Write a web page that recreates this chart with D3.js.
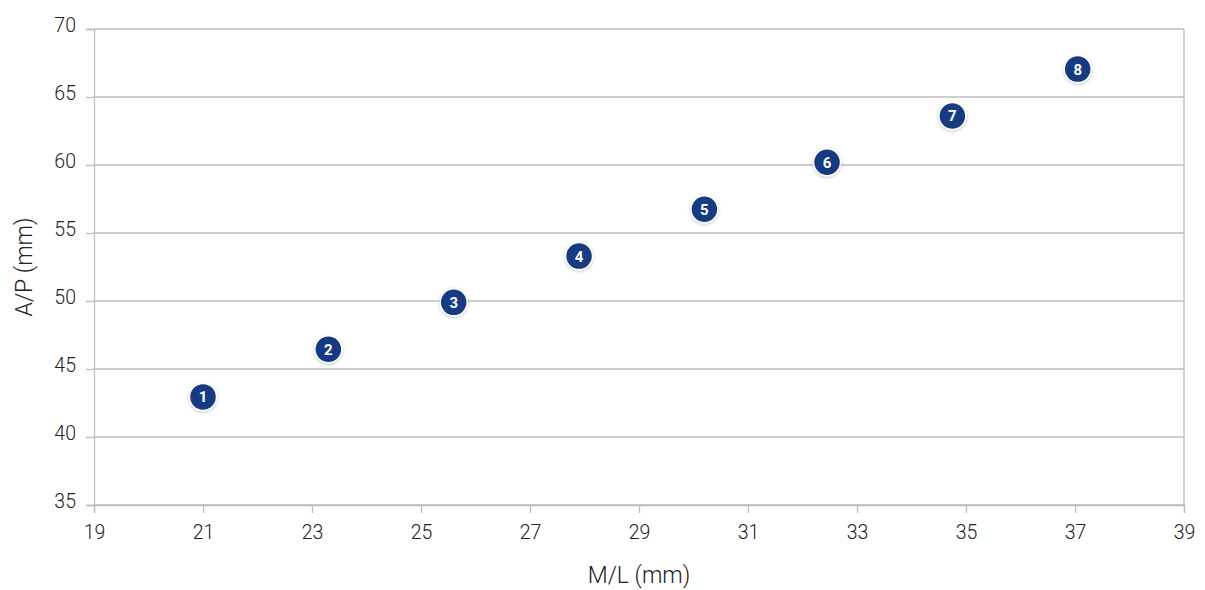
<!DOCTYPE html>
<html>
<head>
<meta charset="utf-8">
<script src="https://cdn.jsdelivr.net/npm/d3@7.9.0/dist/d3.min.js"></script>
<style>
    html, body { margin: 0; padding: 0; background: #fff; }
    svg { display: block; font-family: Roboto, "Noto Sans", sans-serif; }
    .tick text { fill: #222; font-size: 19.5px; font-weight: 300; }
    .axis-label { fill: #222; font-size: 23px; font-weight: 300; }
</style>
</head>
<body>
<svg id="chart" width="1205" height="590"></svg>
<script>
// point labels and their measurements (mm)
var labels = ['1', '2', '3', '4', '5', '6', '7', '8']
var ml = [21.0, 23.3, 25.6, 27.9, 30.2, 32.45, 34.75, 37.05]
var ap = [42.95, 46.45, 49.9, 53.3, 56.75, 60.2, 63.6, 67.05]

var xTicks = [19, 21, 23, 25, 27, 29, 31, 33, 35, 37, 39]
var yTicks = [35, 40, 45, 50, 55, 60, 65, 70]

var margin = { left: 94, right: 21, top: 29, bottom: 85 }
var W = 1205, H = 590
var iw = W - margin.left - margin.right
var ih = H - margin.top - margin.bottom

var svg = d3.select('#chart')
var g = svg.append('g').attr('transform', 'translate(' + margin.left + ',' + margin.top + ')')

var x = d3.scaleLinear().domain([19, 39]).range([0, iw])
var y = d3.scaleLinear().domain([35, 70]).range([ih, 0])

// horizontal grid
g.append('g')
    .selectAll('line')
    .data(yTicks)
    .enter()
    .append('line')
    .attr('x1', 0)
    .attr('x2', iw)
    .attr('y1', function (d) { return y(d) })
    .attr('y2', function (d) { return y(d) })
    .attr('stroke', '#bdbdbd')
    .attr('stroke-width', 1.3)

// right border
g.append('line')
    .attr('x1', iw).attr('x2', iw)
    .attr('y1', 0).attr('y2', ih)
    .attr('stroke', '#bdbdbd')
    .attr('stroke-width', 1.3)

var xAxis = g.append('g')
    .attr('transform', 'translate(0,' + ih + ')')
    .call(d3.axisBottom(x).tickValues(xTicks).tickSize(8).tickPadding(12).tickFormat(d3.format('d')))
var yAxis = g.append('g')
    .call(d3.axisLeft(y).tickValues(yTicks).tickSize(8).tickPadding(10).tickFormat(d3.format('d')))

;[xAxis, yAxis].forEach(function (a) {
    a.attr('font-size', null).attr('font-family', null)
    a.select('.domain').attr('stroke', '#bdbdbd').attr('stroke-width', 1.3)
    a.selectAll('.tick line').attr('stroke', '#bdbdbd').attr('stroke-width', 1.3)
})
yAxis.selectAll('.tick text').attr('dy', '0.15em')

svg.append('text')
    .attr('class', 'axis-label')
    .attr('x', margin.left + iw / 2)
    .attr('y', 583)
    .attr('text-anchor', 'middle')
    .text('M/L (mm)')

svg.append('text')
    .attr('class', 'axis-label')
    .attr('transform', 'translate(32,' + (margin.top + ih / 2) + ') rotate(-90)')
    .attr('text-anchor', 'middle')
    .text('A/P (mm)')

// markers
var defs = svg.append('defs')
var f = defs.append('filter').attr('id', 'shadow').attr('x', '-50%').attr('y', '-50%').attr('width', '200%').attr('height', '200%')
f.append('feDropShadow').attr('dx', 0).attr('dy', 1).attr('stdDeviation', 1.5).attr('flood-color', '#000').attr('flood-opacity', 0.25)

var pts = g.selectAll('.pt')
    .data(labels.map(function (l, i) { return { label: l, x: ml[i], y: ap[i] } }))
    .enter()
    .append('g')
    .attr('class', 'pt')
    .attr('transform', function (d) { return 'translate(' + x(d.x) + ',' + y(d.y) + ')' })

pts.append('circle')
    .attr('r', 13.5)
    .attr('fill', '#173a80')
    .attr('stroke', '#fff')
    .attr('stroke-width', 1.5)
    .attr('filter', 'url(#shadow)')

pts.append('text')
    .attr('text-anchor', 'middle')
    .attr('dy', '0.36em')
    .attr('fill', '#fff')
    .attr('font-size', '15px')
    .attr('font-weight', 700)
    .text(function (d) { return d.label })
</script>
</body>
</html>
